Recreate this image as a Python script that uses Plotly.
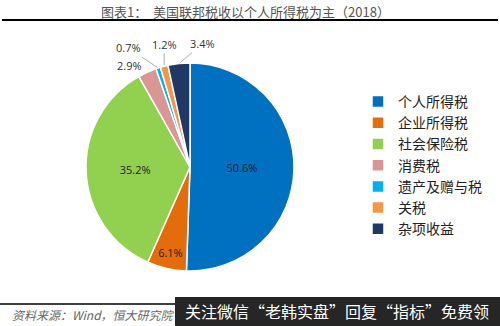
import math
import plotly.graph_objects as go

categories = ["个人所得税", "企业所得税", "社会保险税", "消费税", "遗产及赠与税", "关税", "杂项收益"]
shares = [50.6, 6.1, 35.2, 2.9, 0.7, 1.2, 3.4]
colors = ["#0070C0", "#E46C0A", "#92D050", "#D99694", "#00B0F0", "#F79646", "#1F3864"]
small_label_offsets = {3: (-18, -7), 4: (-30, -20), 5: (0, -22), 6: (24, -20)}

W, H = 500, 326
cx, cy, r = 190, 167, 104

texts = [f"{v}%" if i not in small_label_offsets else "" for i, v in enumerate(shares)]

fig = go.Figure(go.Pie(
    labels=categories, values=shares, sort=False, direction="clockwise", rotation=0,
    marker=dict(colors=colors, line=dict(color="white", width=1.5)),
    text=texts, textinfo="text", textposition="inside", insidetextorientation="horizontal",
    textfont=dict(family="Open Sans, Noto Sans CJK SC", size=11, color="#222"),
    domain=dict(x=[(cx - r) / W, (cx + r) / W], y=[1 - (cy + r) / H, 1 - (cy - r) / H]),
    hoverinfo="label+percent",
))

label_font = dict(family="Open Sans, Noto Sans CJK SC", size=11, color="#333")
total = sum(shares)
cum = 0
annotations = []
for i, v in enumerate(shares):
    mid = (cum + v / 2) / total
    cum += v
    if i not in small_label_offsets:
        continue
    th = mid * 2 * math.pi
    px = cx + r * math.sin(th)
    py = cy - r * math.cos(th)
    dx, dy = small_label_offsets[i]
    if i == 3:
        annotations.append(dict(
            x=(px + dx) / W, y=1 - (py + dy) / H, xref="paper", yref="paper",
            xanchor="center", yanchor="middle",
            text=f"{v}%", showarrow=False, font=label_font))
    else:
        annotations.append(dict(
            x=px / W, y=1 - py / H, xref="paper", yref="paper",
            text=f"{v}%", showarrow=True, ax=dx, ay=dy, arrowhead=0, arrowwidth=0.8,
            arrowcolor="#999", standoff=1, font=label_font))

annotations += [
    dict(x=0.49, y=1 - 11 / H, xref="paper", yref="paper", showarrow=False,
         xanchor="center", yanchor="middle",
         text="图表1：  美国联邦税收以个人所得税为主（2018）",
         font=dict(family="Noto Sans CJK SC", size=13, color="#555")),
    dict(x=10 / W, y=1 - 314 / H, xref="paper", yref="paper", showarrow=False,
         xanchor="left", yanchor="middle",
         text="<i>资料来源：Wind，恒大研究院</i>",
         font=dict(family="Noto Sans CJK SC", size=12, color="#666")),
    dict(x=337 / W, y=1 - 311 / H, xref="paper", yref="paper", showarrow=False,
         xanchor="center", yanchor="middle",
         text="关注微信“老韩实盘”回复“指标”免费领",
         font=dict(family="Noto Sans CJK SC", size=16, color="white")),
]

shapes = [
    dict(type="line", xref="paper", yref="paper", x0=0.004, x1=0.996, y0=1 - 20 / H, y1=1 - 20 / H,
         line=dict(color="black", width=2)),
    dict(type="line", xref="paper", yref="paper", x0=0.0, x1=0.996, y0=1 - 304 / H, y1=1 - 304 / H,
         line=dict(color="black", width=1.5)),
    dict(type="rect", xref="paper", yref="paper", x0=175 / W, x1=1.0, y0=0, y1=1 - 297 / H,
         fillcolor="#262626", line=dict(width=0), layer="above"),
]

fig.update_layout(
    width=W, height=H, margin=dict(l=0, r=0, t=0, b=0),
    paper_bgcolor="white", plot_bgcolor="white",
    showlegend=True,
    legend=dict(x=358 / W, y=1 - 86 / H, xanchor="left", yanchor="top",
                font=dict(family="Noto Sans CJK SC", size=14, color="#222"),
                itemwidth=30, bgcolor="rgba(0,0,0,0)"),
    annotations=annotations, shapes=shapes,
)

fig.write_html("out.html")
